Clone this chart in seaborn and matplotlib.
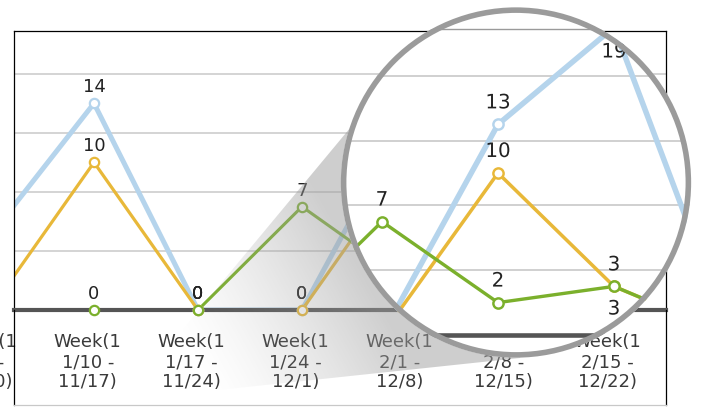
import numpy as np
import pandas as pd
import seaborn as sns
import matplotlib
matplotlib.use('Agg')
import matplotlib.pyplot as plt
import matplotlib.patheffects as pe
from matplotlib.patches import Ellipse, Polygon
from matplotlib.lines import Line2D

# data
weeks = ['Week(1\n1/3 -\n11/10)', 'Week(1\n1/10 -\n11/17)', 'Week(1\n1/17 -\n11/24)',
         'Week(1\n1/24 -\n12/1)', 'Week(1\n2/1 -\n12/8)', 'Week(1\n2/8 -\n12/15)',
         'Week(1\n2/15 -\n12/22)']
series_blue = [5, 14, 0, 0, 13, 19, 0]
series_orange = [0, 10, 0, 0, 10, 3, 0]
series_green = [0, 0, 0, 7, 2, 3, 0]
names = ['Series 1', 'Series 2', 'Series 3']
colors = {'Series 1': '#b5d4ec', 'Series 2': '#e8b839', 'Series 3': '#7bb02c'}
widths = {'Series 1': 3.6, 'Series 2': 2.3, 'Series 3': 2.2}
grid_vals = [4, 8, 12, 16]
plot_top = 18.9

idx = list(range(len(weeks)))
df = pd.DataFrame({
    'idx': idx * 3,
    'value': series_blue + series_orange + series_green,
    'series': [n for n in names for _ in weeks],
})

W, H = 701, 407


def fbox(x0, y0, x1, y1):
    return [x0 / W, 1 - y1 / H, (x1 - x0) / W, (y1 - y0) / H]


def draw_chart(ax, k, off, clip, effects=None):
    for g in grid_vals:
        ax.axhline(g, color='#c9c9c9', lw=1.1 * k, zorder=1)
    sns.lineplot(data=df, x='idx', y='value', hue='series', hue_order=names,
                 palette=colors, size='series', size_order=names,
                 sizes={n: w * k for n, w in widths.items()},
                 legend=False, ax=ax, zorder=2)
    ax.axhline(0, color='#555555', lw=3 * k, zorder=3, clip_on=clip)
    for n in names:
        d = df[df['series'] == n]
        sns.scatterplot(x=d['idx'], y=d['value'], color='white', edgecolor=colors[n],
                        linewidth=1.6 * k, s=45 * k * k, zorder=4, ax=ax, clip_on=clip)
    # value labels
    other = df[df['series'] == 'Series 2']['value'].values
    for n in names:
        d = df[df['series'] == n]
        for j, (x, v) in enumerate(zip(d['idx'], d['value'])):
            dy = off
            if v > plot_top:
                dy = -off * 1.15
            elif n == 'Series 3' and v > 0 and v == other[j]:
                dy = -off * 1.05
            ax.annotate(str(v), (x, v), xytext=(0, dy), textcoords='offset points',
                        ha='center', va='center', fontsize=13 * k, color='#222222',
                        annotation_clip=False, zorder=5, path_effects=effects)
    # category labels
    for x, lab in zip(idx, weeks):
        ax.annotate(lab, (x, 0), xytext=(-4.5 * k, -16.5 * k), textcoords='offset points',
                    ha='center', va='top', fontsize=13 * k, color='#3a3a3a',
                    linespacing=1.16, annotation_clip=False, path_effects=effects)
    ax.set_xlabel('')
    ax.set_ylabel('')


fig = plt.figure(figsize=(W / 100, H / 100), dpi=100)

# base chart
ax = fig.add_axes(fbox(14, 31, 666, 310))
ax.set_zorder(1)
draw_chart(ax, 1.0, 11.5, False)
ax.set_xlim(0.2308, 6.5)
ax.set_ylim(0, plot_top)
ax.set_xticks([])
ax.set_yticks([])
ax.spines['bottom'].set_visible(False)
for s in ['top', 'left', 'right']:
    ax.spines[s].set_color('black')
    ax.spines[s].set_linewidth(0.9)
ax.patch.set_alpha(0)
frame = [((14, 14), (310, 405), 'black'), ((666, 666), (310, 405), 'black'),
         ((14, 666), (405, 405), '#c8c8c8')]
for xs, ys, c in frame:
    fig.add_artist(Line2D([xs[0] / W, xs[1] / W], [1 - ys[0] / H, 1 - ys[1] / H],
                          transform=fig.transFigure, color=c, lw=0.9, zorder=1.5))

# shaded cone of the magnifier
axc = fig.add_axes([0, 0, 1, 1])
axc.set_zorder(2)
axc.set_xlim(0, W)
axc.set_ylim(H, 0)
axc.set_axis_off()
apex = np.array([124.0, 400.0])
centre = np.array([516.0, 182.5])
u = centre - apex
dist = np.hypot(*u)
u = u / dist
X, Y = np.meshgrid(np.arange(W) + 0.5, np.arange(H) + 0.5)
t = ((X - apex[0]) * u[0] + (Y - apex[1]) * u[1]) / dist
alpha = 0.5 * np.clip((t - 0.18) / 0.42, 0, 1) ** 1.3
img = np.zeros((H, W, 4))
img[..., :3] = 0.62
img[..., 3] = alpha
cone = Polygon([apex, (380, 92), tuple(centre), (520, 358)], closed=True,
               facecolor='none', edgecolor='none')
axc.add_patch(cone)
im = axc.imshow(img, extent=(0, W, H, 0), aspect='auto', interpolation='bilinear')
im.set_clip_path(cone)

# magnified view inside the lens
ax2 = fig.add_axes(fbox(341, 7.5, 691, 357.5))
ax2.set_zorder(3)
ax2.set_axis_off()
bg = Ellipse((0.5, 0.5), 1, 1, transform=ax2.transAxes, facecolor='white',
             edgecolor='none', zorder=0)
ax2.add_patch(bg)
# text drawn as paths so the round lens can clip it
draw_chart(ax2, 1.1, 15.5, True, effects=[pe.Normal()])
ax2.axhline(plot_top, color='#9a9a9a', lw=1.0, zorder=1)
ax2.set_xlim(3 + (341 - 382) / 116, 3 + (691 - 382) / 116)
ax2.set_ylim((335 - 357.5) / 16.2, (335 - 7.5) / 16.2)
for a in list(ax2.lines) + list(ax2.collections) + list(ax2.texts):
    a.set_clip_on(True)
    a.set_clip_path(bg)
ring = Ellipse((0.5, 0.5), 0.985, 0.985, transform=ax2.transAxes, fill=False,
               edgecolor='#9b9b9b', lw=4, zorder=10, clip_on=False)
ax2.add_patch(ring)

fig.savefig('out.png', dpi=100)
